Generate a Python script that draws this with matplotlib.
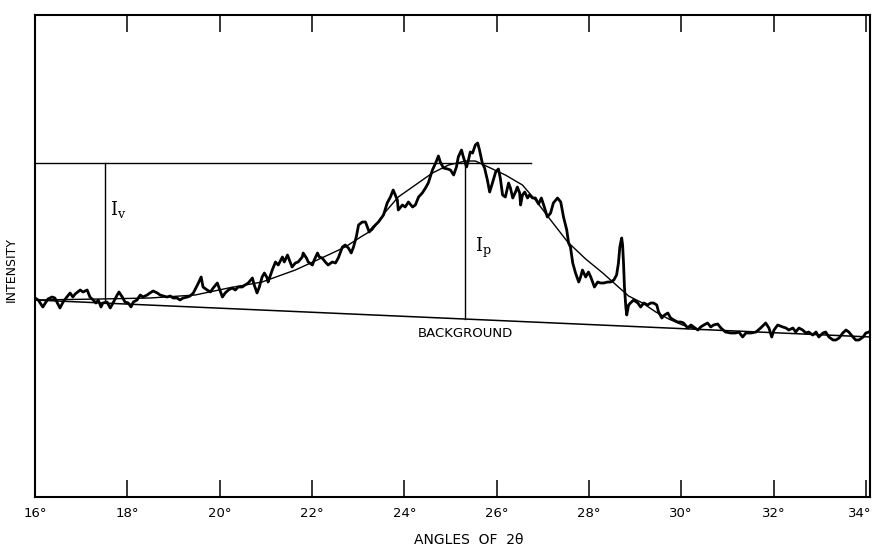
import numpy as np
from matplotlib import pyplot as plt
from matplotlib.transforms import ScaledTranslation

# measured trace: angle 2-theta (deg) and intensity (arbitrary units)
angle = [16.00, 16.07, 16.17, 16.28, 16.37, 16.43, 16.54, 16.61, 16.69, 16.76,
         16.82, 16.87, 16.98, 17.04, 17.13, 17.19, 17.26, 17.32, 17.37, 17.43,
         17.47, 17.56, 17.63, 17.69, 17.78, 17.82, 17.89, 17.95, 18.02, 18.08,
         18.13, 18.21, 18.28, 18.34, 18.43, 18.49, 18.56, 18.65, 18.71, 18.78,
         18.86, 18.93, 18.99, 19.08, 19.14, 19.21, 19.30, 19.36, 19.43, 19.54,
         19.60, 19.64, 19.73, 19.80, 19.86, 19.95, 19.99, 20.06, 20.12, 20.19,
         20.27, 20.34, 20.40, 20.49, 20.55, 20.62, 20.71, 20.75, 20.81, 20.86,
         20.92, 20.97, 21.03, 21.05, 21.14, 21.21, 21.27, 21.36, 21.40, 21.47,
         21.51, 21.57, 21.64, 21.70, 21.79, 21.81, 21.88, 21.92, 22.01, 22.05,
         22.12, 22.16, 22.22, 22.29, 22.35, 22.44, 22.51, 22.57, 22.66, 22.72,
         22.79, 22.85, 22.90, 22.96, 23.01, 23.09,
         23.16, 23.24, 23.33, 23.44, 23.55, 23.63, 23.70, 23.76, 23.85, 23.87,
         23.96, 24.02, 24.09, 24.18, 24.24, 24.31, 24.39, 24.46, 24.52, 24.61,
         24.68, 24.74, 24.78, 24.85, 24.94, 25.00, 25.07, 25.13, 25.17, 25.24,
         25.28, 25.35, 25.39, 25.43, 25.48, 25.54, 25.59, 25.63, 25.69, 25.74,
         25.80, 25.85, 25.91, 25.98, 26.04, 26.08, 26.13, 26.19, 26.26, 26.30,
         26.35, 26.41, 26.45, 26.50, 26.52, 26.56, 26.61, 26.67, 26.71, 26.78,
         26.84, 26.91, 26.97, 27.02, 27.10, 27.17, 27.23, 27.32, 27.39, 27.45,
         27.52, 27.56, 27.60, 27.65, 27.71, 27.78, 27.82, 27.86, 27.93, 27.99,
         28.04, 28.08, 28.12, 28.19, 28.25, 28.32, 28.41, 28.47, 28.54, 28.60,
         28.64, 28.67, 28.71, 28.73, 28.75, 28.77, 28.80, 28.82, 28.86, 28.90,
         28.97, 29.06, 29.12, 29.19, 29.27, 29.34, 29.40, 29.47, 29.51, 29.58,
         29.64, 29.71, 29.77, 29.84, 29.92, 29.99, 30.05, 30.14, 30.21, 30.27,
         30.36,
         30.42, 30.49, 30.57, 30.64, 30.70, 30.79, 30.86, 30.96, 31.07, 31.18,
         31.25, 31.33, 31.40, 31.51, 31.62, 31.72, 31.83, 31.90, 31.96, 32.01,
         32.09, 32.20, 32.27, 32.33, 32.42, 32.48, 32.55, 32.63, 32.70, 32.76,
         32.85, 32.92, 32.98, 33.07, 33.13, 33.20, 33.29, 33.35, 33.42, 33.50,
         33.57, 33.63, 33.72, 33.78, 33.85, 33.94, 34.00, 34.07, 34.11]
intensity = [198, 196, 189, 197, 199, 198, 188, 194, 199, 203,
             199, 202, 206, 204, 206, 199, 196, 193, 196, 189,
             193, 194, 188, 193, 201, 204, 199, 194, 193, 189,
             194, 196, 201, 199, 201, 203, 205, 203, 201, 200,
             199, 200, 198, 198, 196, 198, 199, 200, 203, 213,
             219, 209, 206, 204, 208, 213, 208, 199, 203, 206,
             208, 206, 209, 209, 211, 213, 218, 211, 203, 209,
             219, 223, 218, 214, 226, 234, 231, 239, 234, 241,
             236, 229, 233, 234, 239, 243, 238, 234, 231, 236,
             243, 239, 238, 234, 231, 234, 233, 238, 249, 251,
             248, 243, 249, 259, 271, 274,
             274, 264, 269, 274, 281, 293, 299, 306, 296, 286,
             291, 289, 294, 289, 291, 299, 303, 308, 313, 326,
             333, 340, 334, 328, 327, 326, 321, 329, 339, 346,
             339, 329, 336, 344, 343, 351, 353, 346, 333, 328,
             316, 304, 313, 324, 327, 318, 301, 299, 313, 308,
             298, 304, 309, 303, 291, 301, 304, 298, 301, 298,
             298, 292, 298, 291, 279, 283, 293, 298, 294, 279,
             266, 253, 249, 233, 223, 214, 219, 226, 219, 224,
             219, 214, 209, 214, 213, 213, 214, 214, 216, 221,
             233, 249, 258, 251, 233, 209, 189, 181, 191, 193,
             196, 193, 189, 193, 191, 193, 193, 191, 184, 178,
             181, 183, 178, 176, 174, 174, 173, 168, 171, 169,
             166,
             169, 171, 173, 169, 171, 172, 168, 164, 163, 163,
             164, 159, 163, 163, 164, 168, 173, 168, 159, 166,
             171, 169, 168, 166, 168, 164, 168, 166, 163, 164,
             161, 164, 159, 163, 164, 159, 156, 156, 158, 163,
             166, 164, 159, 156, 156, 159, 163, 164, 166]

# smooth drawn peak curve
fit_angle = [16.00, 17.41, 18.49, 19.47, 20.19, 20.92, 21.64, 22.35, 22.72, 23.09,
             23.31, 23.59, 23.87, 24.24, 24.61, 24.96, 25.33, 25.54, 25.82, 26.19,
             26.56, 26.84, 27.17, 27.54, 27.93, 28.30, 28.64, 28.86, 29.16, 29.45,
             29.73, 30.03, 30.31, 30.42]
fit_intensity = [196, 197, 198, 201, 208, 214, 226, 241, 249, 260,
                 266, 284, 299, 311, 323, 331, 335, 335, 329, 321,
                 311, 296, 276, 254, 237, 223, 209, 200, 193, 184,
                 177, 171, 167, 166.5]

# background line end points
bg_angle = [16.00, 34.11]
bg_intensity = [196, 159]

peak_level = 333
iv_angle, iv_base = 17.52, 193
ip_angle, ip_base = 25.31, 177
level_end = 26.74

ticks = [16, 18, 20, 22, 24, 26, 28, 30, 32, 34]
tick_labels = ['16°', '18°', '20°', '22°', '24°', '26°', '28°', '30°', '32°', '34°']

fig = plt.figure(figsize=(8.75, 5.49), dpi=100)
ax = fig.add_axes([0.04, 0.0947, 0.9543, 0.878])

ax.plot(angle, intensity, color='black', lw=2.0, solid_joinstyle='round')
ax.plot(fit_angle, fit_intensity, color='black', lw=1.0)
ax.plot(bg_angle, bg_intensity, color='black', lw=1.1)

# peak level and the two intensity markers
ax.plot([16, level_end], [peak_level, peak_level], color='black', lw=1.0)
ax.plot([iv_angle, iv_angle], [iv_base, peak_level], color='black', lw=1.0)
ax.plot([ip_angle, ip_angle], [ip_base, peak_level], color='black', lw=1.0)

ax.text(17.63, 286, r'$\mathregular{I_v}$', fontsize=13, va='center', ha='left',
        family='DejaVu Serif')
ax.text(25.54, 248, r'$\mathregular{I_p}$', fontsize=13, va='center', ha='left',
        family='DejaVu Serif')
ax.text(25.33, 163, 'BACKGROUND', fontsize=9.5, ha='center', va='center')

ax.set_xlim(16, 34.09)
ax.set_ylim(-1, 481)
ax.set_xticks(ticks)
ax.set_xticklabels(tick_labels, fontsize=9.5)
ax.set_yticks([])
ax.tick_params(axis='x', direction='in', top=True, length=12, width=1.1, pad=7)

# last label sits at the very edge, nudge it in a bit
last = ax.get_xticklabels()[-1]
last.set_transform(last.get_transform() + ScaledTranslation(-0.06, 0, fig.dpi_scale_trans))

for s in ax.spines.values():
    s.set_linewidth(1.5)

ax.set_xlabel('ANGLES  OF  2θ', fontsize=10, va='center')
ax.xaxis.set_label_coords(0.519, -0.089)
ax.set_ylabel('INTENSITY', fontsize=9)
ax.yaxis.set_label_coords(-0.0204, 0.471)

plt.savefig('out.png', dpi=100)
